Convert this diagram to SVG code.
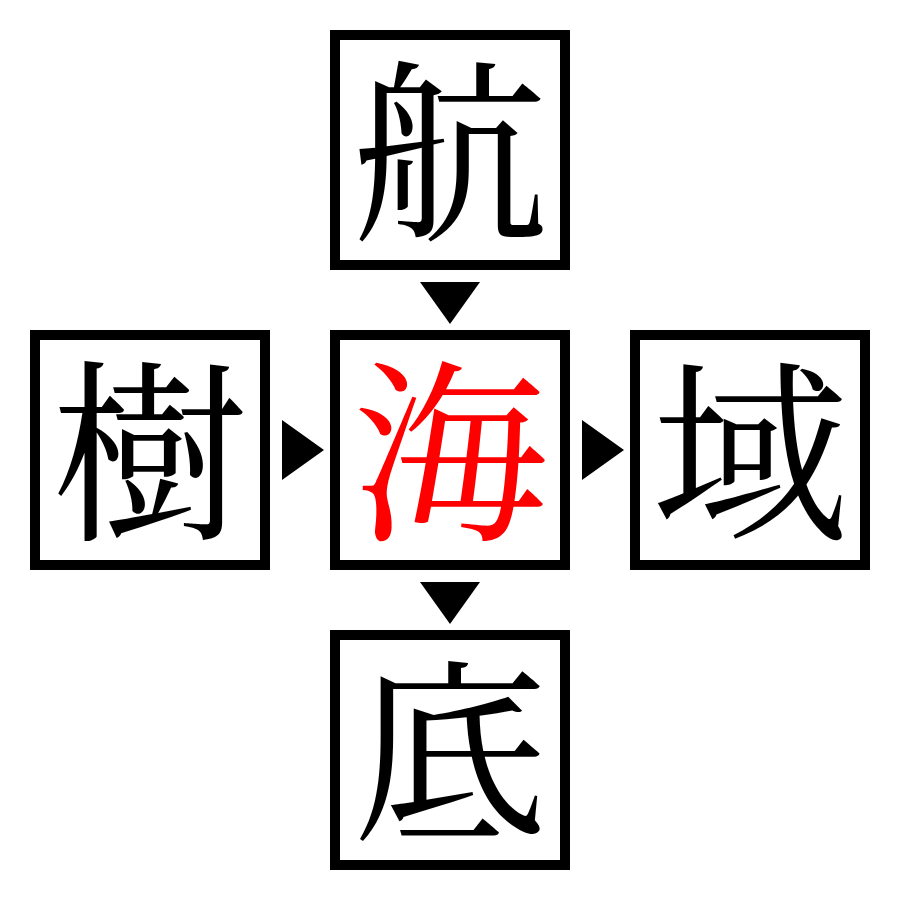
<svg xmlns="http://www.w3.org/2000/svg" width="900" height="900" viewBox="0 0 900 900">
<style>
.box{fill:#fff;stroke:#000;stroke-width:10}
.ch{font-family:"Noto Serif CJK JP","Noto Sans CJK JP",serif;font-size:196px;text-anchor:middle;fill:#000}
.red{fill:#ff0000}
.arr{fill:#000}
</style>
<rect width="900" height="900" fill="#fff"/>
<g id="node-top"><rect class="box" x="335" y="35" width="230" height="230"/><text class="ch" x="450" y="225">航</text></g>
<g id="node-left"><rect class="box" x="35" y="335" width="230" height="230"/><text class="ch" x="150" y="525">樹</text></g>
<g id="node-center"><rect class="box" x="335" y="335" width="230" height="230"/><text class="ch red" x="450" y="525">海</text></g>
<g id="node-right"><rect class="box" x="635" y="335" width="230" height="230"/><text class="ch" x="750" y="525">域</text></g>
<g id="node-bottom"><rect class="box" x="335" y="635" width="230" height="230"/><text class="ch" x="450" y="825">底</text></g>
<g id="connectors">
<polygon class="arr" points="420,282 480,282 450,324"/>
<polygon class="arr" points="282,420 282,480 324,450"/>
<polygon class="arr" points="582,420 582,480 624,450"/>
<polygon class="arr" points="420,582 480,582 450,624"/>
</g>
</svg>
